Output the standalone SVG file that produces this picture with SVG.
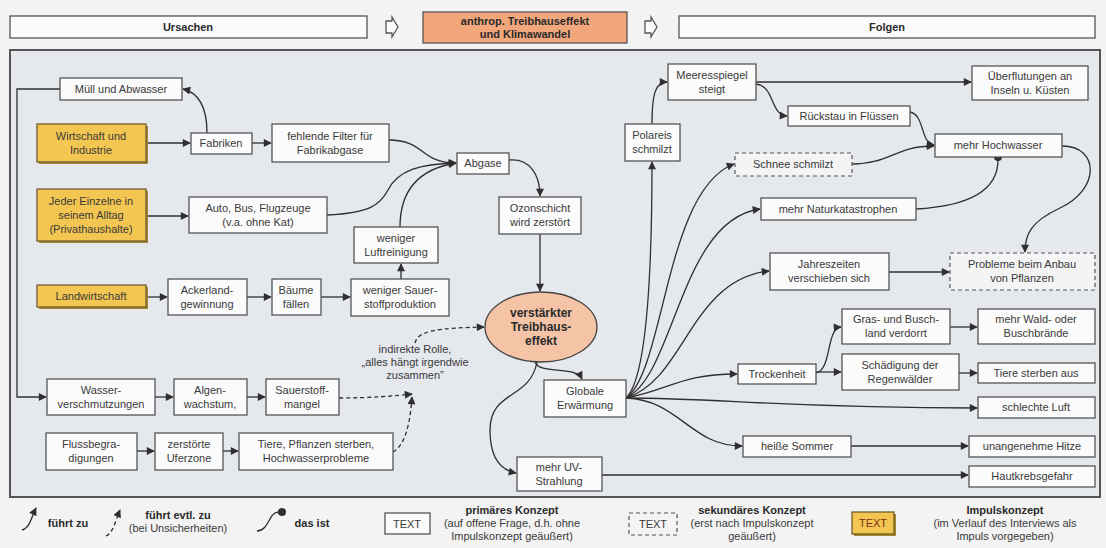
<svg xmlns="http://www.w3.org/2000/svg" width="1106" height="548" viewBox="0 0 1106 548">
<defs>
<marker id="ah" viewBox="0 0 10 10" refX="9" refY="5" markerWidth="9" markerHeight="8" orient="auto" markerUnits="userSpaceOnUse"><path d="M0,0 L10,5 L0,10 z" fill="#2f2f2f"/></marker>
<style>
text{font-family:"Liberation Sans",Arial,sans-serif;font-size:11px;fill:#3a3a3a;text-anchor:middle}
.b{font-weight:bold;fill:#2a2a2a}
.n{fill:#fbfbfb;stroke:#555;stroke-width:1.3}
.d{fill:#f4f4f4;stroke:#555;stroke-width:1.2;stroke-dasharray:4 3}
.y{fill:#f3c651;stroke:#6e5d30;stroke-width:1.3}
.sh{fill:#a8862e}
.c{fill:none;stroke:#2f2f2f;stroke-width:1.3;marker-end:url(#ah)}
.cd{fill:none;stroke:#2f2f2f;stroke-width:1.3;stroke-dasharray:4 3;marker-end:url(#ah)}
.cp{fill:none;stroke:#2f2f2f;stroke-width:1.3}
.hd{fill:#fbfbfb;stroke:#555;stroke-width:1.3}
</style>
</defs>
<rect width="1106" height="548" fill="#f3f3f3"/>
<g id="header">
<rect class="hd" x="10" y="16" width="357" height="22"/>
<text class="b" x="188" y="31">Ursachen</text>
<path class="hd" d="M386,21 H392 V17 L398,27 L392,37 V33 H386 Z"/>
<rect x="423" y="12" width="204" height="31" fill="#f2a67c" stroke="#555" stroke-width="1.3"/>
<text class="b" x="525" y="25">anthrop. Treibhauseffekt</text>
<text class="b" x="525" y="38">und Klimawandel</text>
<path class="hd" d="M645,21 H651 V17 L657,27 L651,37 V33 H645 Z"/>
<rect class="hd" x="679" y="16" width="416" height="22"/>
<text class="b" x="887" y="31">Folgen</text>
</g>
<rect id="panel" x="10" y="50" width="1090" height="447" fill="#e5e8ed" stroke="#555" stroke-width="2"/>
<g id="connectors">
<path class="c" d="M207,133 C207,108 200,93 183,89"/>
<path class="c" d="M60,89 H17 V397 H46"/>
<path class="c" d="M146,143 H190"/>
<path class="c" d="M252,143 H271"/>
<path class="c" d="M146,216 H188"/>
<path class="c" d="M146,297 H167"/>
<path class="c" d="M247,297 H271"/>
<path class="c" d="M321,297 H350"/>
<path class="c" d="M401,279 V264"/>
<path class="c" d="M389,140 C425,140 420,163 456,163"/>
<path class="c" d="M327,215 C370,213 380,205 388,190 C398,170 420,164 456,163"/>
<path class="c" d="M400,227 C400,185 425,168 456,163"/>
<path class="c" d="M509,160 C530,158 540,175 540,196"/>
<path class="c" d="M540,234 V291"/>
<path class="c" d="M155,397 H173"/>
<path class="c" d="M247,397 H265"/>
<path class="c" d="M137,451 H154"/>
<path class="c" d="M223,451 H238"/>
<path class="cd" d="M339,398 C370,398 395,396 412,394"/>
<path class="cd" d="M393,452 C405,445 410,425 412,397"/>
<path class="cd" d="M415,343 C418,330 440,328 484,327"/>
<path class="c" d="M535,362 C540,375 575,365 582,379"/>
<path class="c" d="M537,362 C530,400 490,390 490,430 C490,458 500,470 516,473"/>
<path class="c" d="M602,475 H968"/>
<path class="c" d="M626,398 C640,385 652,330 652,162"/>
<path class="c" d="M626,398 C665,370 665,190 734,164"/>
<path class="c" d="M626,398 C675,375 680,220 760,209"/>
<path class="c" d="M626,398 C685,380 690,280 769,271"/>
<path class="c" d="M626,398 C670,390 680,374 737,374"/>
<path class="c" d="M626,398 C720,398 780,408 977,408"/>
<path class="c" d="M626,398 C680,400 690,446 742,446"/>
<path class="c" d="M652,124 C652,95 655,82 667,82"/>
<path class="c" d="M756,82 H971"/>
<path class="c" d="M756,84 C775,86 770,115 787,116"/>
<path class="c" d="M910,112 C925,115 920,143 934,145"/>
<path class="c" d="M852,164 C890,164 895,146 934,146"/>
<path class="cp" d="M916,209 C970,206 998,190 998,160"/>
<circle cx="998" cy="157" r="4" fill="#2f2f2f"/>
<path class="c" d="M1062,146 C1100,146 1100,190 1060,208 C1030,222 1025,235 1025,252"/>
<path class="c" d="M889,272 H949"/>
<path class="c" d="M816,373 C832,370 826,328 841,327"/>
<path class="c" d="M816,372 H841"/>
<path class="c" d="M950,327 H977"/>
<path class="c" d="M959,373 H977"/>
<path class="c" d="M851,446 H968"/>
</g>
<g id="muell"><rect class="n" x="60" y="78" width="122" height="22"/><text x="121" y="93">Müll und Abwasser</text></g>
<g id="wirtschaft"><rect class="sh" x="39" y="126" width="109" height="38"/><rect class="y" x="37" y="124" width="109" height="38"/><text x="91" y="140">Wirtschaft und</text><text x="91" y="154">Industrie</text></g>
<g id="fabriken"><rect class="n" x="191" y="133" width="61" height="21"/><text x="221" y="147">Fabriken</text></g>
<g id="filter"><rect class="n" x="272" y="124" width="117" height="38"/><text x="330" y="140">fehlende Filter für</text><text x="330" y="154">Fabrikabgase</text></g>
<g id="jeder"><rect class="sh" x="39" y="191" width="109" height="52"/><rect class="y" x="37" y="189" width="109" height="52"/><text x="91" y="205">Jeder Einzelne in</text><text x="91" y="219">seinem Alltag</text><text x="91" y="233">(Privathaushalte)</text></g>
<g id="auto"><rect class="n" x="189" y="197" width="138" height="36"/><text x="258" y="212">Auto, Bus, Flugzeuge</text><text x="258" y="226">(v.a. ohne Kat)</text></g>
<g id="luft"><rect class="n" x="354" y="227" width="84" height="36"/><text x="396" y="242">weniger</text><text x="396" y="256">Luftreinigung</text></g>
<g id="sauerprod"><rect class="n" x="351" y="279" width="98" height="37"/><text x="400" y="294">weniger Sauer-</text><text x="400" y="308">stoffproduktion</text></g>
<g id="landw"><rect class="sh" x="39" y="287" width="109" height="22"/><rect class="y" x="37" y="285" width="109" height="22"/><text x="91" y="300">Landwirtschaft</text></g>
<g id="acker"><rect class="n" x="168" y="279" width="79" height="36"/><text x="207" y="294">Ackerland-</text><text x="207" y="308">gewinnung</text></g>
<g id="baeume"><rect class="n" x="272" y="279" width="49" height="36"/><text x="296" y="294">Bäume</text><text x="296" y="308">fällen</text></g>
<g id="abgase"><rect class="n" x="457" y="153" width="52" height="21"/><text x="483" y="167">Abgase</text></g>
<g id="ozon"><rect class="n" x="499" y="197" width="82" height="37"/><text x="540" y="212">Ozonschicht</text><text x="540" y="226">wird zerstört</text></g>
<g id="treibhaus"><ellipse cx="541" cy="327" rx="56" ry="35" fill="#f5c3a6" stroke="#444" stroke-width="1.3"/><text class="b" x="541" y="317" style="font-size:12px">verstärkter</text><text class="b" x="541" y="331" style="font-size:12px">Treibhaus-</text><text class="b" x="541" y="345" style="font-size:12px">effekt</text></g>
<g id="indirekt"><text x="415" y="353">indirekte Rolle,</text><text x="415" y="366">„alles hängt irgendwie</text><text x="415" y="379">zusammen”</text></g>
<g id="wasser"><rect class="n" x="47" y="379" width="108" height="36"/><text x="101" y="394">Wasser-</text><text x="101" y="408">verschmutzungen</text></g>
<g id="algen"><rect class="n" x="174" y="379" width="73" height="36"/><text x="210" y="394">Algen-</text><text x="210" y="408">wachstum,</text></g>
<g id="mangel"><rect class="n" x="266" y="379" width="73" height="36"/><text x="302" y="394">Sauerstoff-</text><text x="302" y="408">mangel</text></g>
<g id="fluss"><rect class="n" x="46" y="433" width="91" height="37"/><text x="91" y="448">Flussbegra-</text><text x="91" y="462">digungen</text></g>
<g id="ufer"><rect class="n" x="155" y="433" width="68" height="37"/><text x="189" y="448">zerstörte</text><text x="189" y="462">Uferzone</text></g>
<g id="tierepfl"><rect class="n" x="239" y="433" width="154" height="37"/><text x="316" y="448">Tiere, Pflanzen sterben,</text><text x="316" y="462">Hochwasserprobleme</text></g>
<g id="globale"><rect class="n" x="544" y="380" width="82" height="37"/><text x="585" y="395">Globale</text><text x="585" y="409">Erwärmung</text></g>
<g id="uv"><rect class="n" x="517" y="457" width="85" height="34"/><text x="559" y="471">mehr UV-</text><text x="559" y="485">Strahlung</text></g>
<g id="polareis"><rect class="n" x="625" y="124" width="55" height="37"/><text x="652" y="139">Polareis</text><text x="652" y="153">schmilzt</text></g>
<g id="meer"><rect class="n" x="668" y="64" width="88" height="36"/><text x="712" y="79">Meeresspiegel</text><text x="712" y="93">steigt</text></g>
<g id="ueberflut"><rect class="n" x="972" y="66" width="116" height="34"/><text x="1030" y="80">Überflutungen an</text><text x="1030" y="94">Inseln u. Küsten</text></g>
<g id="rueckstau"><rect class="n" x="788" y="106" width="122" height="20"/><text x="849" y="120">Rückstau in Flüssen</text></g>
<g id="hochwasser"><rect class="n" x="935" y="134" width="127" height="23"/><text x="998" y="149">mehr Hochwasser</text></g>
<g id="schnee"><rect class="d" x="735" y="153" width="117" height="23"/><text x="793" y="168">Schnee schmilzt</text></g>
<g id="naturkat"><rect class="n" x="761" y="198" width="155" height="22"/><text x="838" y="213">mehr Naturkatastrophen</text></g>
<g id="jahreszeiten"><rect class="n" x="770" y="253" width="119" height="37"/><text x="829" y="268">Jahreszeiten</text><text x="829" y="282">verschieben sich</text></g>
<g id="probleme"><rect class="d" x="950" y="253" width="145" height="37"/><text x="1022" y="268">Probleme beim Anbau</text><text x="1022" y="282">von Pflanzen</text></g>
<g id="gras"><rect class="n" x="842" y="309" width="108" height="35"/><text x="896" y="323">Gras- und Busch-</text><text x="896" y="337">land verdorrt</text></g>
<g id="wald"><rect class="n" x="978" y="309" width="117" height="35"/><text x="1036" y="323">mehr Wald- oder</text><text x="1036" y="337">Buschbrände</text></g>
<g id="trocken"><rect class="n" x="738" y="364" width="78" height="20"/><text x="777" y="378">Trockenheit</text></g>
<g id="regenwald"><rect class="n" x="842" y="354" width="117" height="36"/><text x="900" y="369">Schädigung der</text><text x="900" y="383">Regenwälder</text></g>
<g id="tiereaus"><rect class="n" x="978" y="363" width="117" height="20"/><text x="1036" y="377">Tiere sterben aus</text></g>
<g id="luftschlecht"><rect class="n" x="978" y="397" width="117" height="21"/><text x="1036" y="411">schlechte Luft</text></g>
<g id="sommer"><rect class="n" x="743" y="436" width="108" height="21"/><text x="797" y="450">heiße Sommer</text></g>
<g id="hitze"><rect class="n" x="969" y="436" width="126" height="21"/><text x="1032" y="450">unangenehme Hitze</text></g>
<g id="hautkrebs"><rect class="n" x="969" y="466" width="126" height="21"/><text x="1032" y="480">Hautkrebsgefahr</text></g>
<g id="legend">
<path class="c" d="M22,530 C30,528 31,518 36,508"/>
<text class="b" x="68" y="527">führt zu</text>
<path class="cd" d="M106,536 C113,533 115,522 120,510"/>
<text class="b" x="178" y="519">führt evtl. zu</text>
<text x="178" y="532">(bei Unsicherheiten)</text>
<path class="cp" d="M257,531 C270,530 268,512 279,512"/>
<circle cx="282" cy="512" r="4" fill="#2f2f2f"/>
<text class="b" x="312" y="527">das ist</text>
<rect class="n" x="385" y="513" width="45" height="21"/><text x="407" y="528">TEXT</text>
<text class="b" x="512" y="514">primäres Konzept</text>
<text x="512" y="527">(auf offene Frage, d.h. ohne</text>
<text x="512" y="540">Impulskonzept geäußert)</text>
<rect class="d" x="629" y="513" width="48" height="22"/><text x="653" y="528">TEXT</text>
<text class="b" x="752" y="514">sekundäres Konzept</text>
<text x="752" y="527">(erst nach Impulskonzept</text>
<text x="752" y="540">geäußert)</text>
<rect class="sh" x="854" y="514" width="42" height="22"/><rect class="y" x="852" y="512" width="42" height="22"/><text x="873" y="527" style="fill:#7a2f1a">TEXT</text>
<text class="b" x="1005" y="514">Impulskonzept</text>
<text x="1005" y="527">(im Verlauf des Interviews als</text>
<text x="1005" y="540">Impuls vorgegeben)</text>
</g>
</svg>
